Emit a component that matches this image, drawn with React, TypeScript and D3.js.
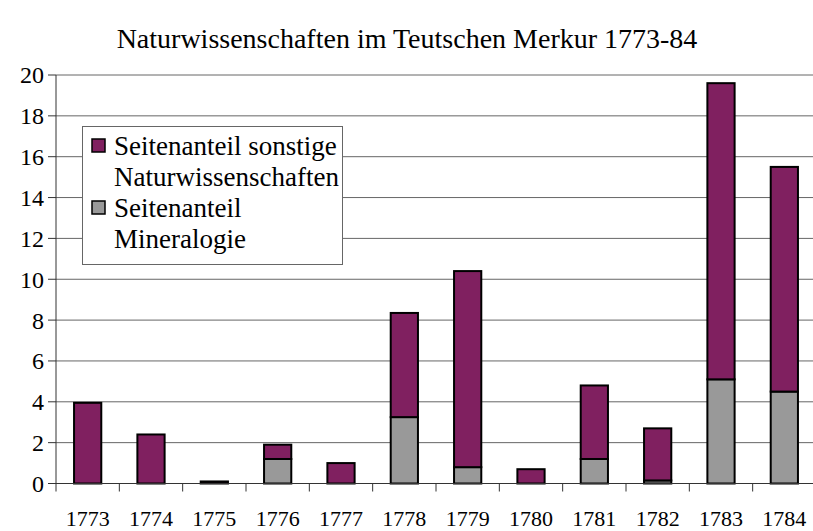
import React from "react";
import * as d3 from "d3";

const years = ["1773", "1774", "1775", "1776", "1777", "1778", "1779", "1780", "1781", "1782", "1783", "1784"];
const mineralogie = [0, 0, 0, 1.2, 0, 3.25, 0.8, 0, 1.2, 0.15, 5.1, 4.5];
const sonstige = [3.95, 2.4, 0.1, 0.7, 1.0, 5.1, 9.6, 0.7, 3.6, 2.55, 14.5, 11.0];
const yTicks = [0, 2, 4, 6, 8, 10, 12, 14, 16, 18, 20];
const legendLines = [
  ["Seitenanteil sonstige", "Naturwissenschaften"],
  ["Seitenanteil", "Mineralogie"]
];

const width = 813;
const height = 531;
const purple = "#802060";
const grey = "#999999";
const font = "'Liberation Serif', 'Times New Roman', serif";

const left = 56;
const right = 816;
const top = 75;
const bottom = 483.5;

const x = d3.scaleBand().domain(years).range([left, right]).paddingInner(0.57).paddingOuter(0.285);
const y = d3.scaleLinear().domain([0, 20]).range([bottom, top]);

const stacked = d3
  .stack<number>()
  .keys(["min", "son"])
  .value((i, key) => (key === "min" ? mineralogie[i] : sonstige[i]))(d3.range(years.length));

const colors = [grey, purple];

const App = () => {
  const step = x.step();
  return (
    <svg
      width={width}
      height={height}
      viewBox={`0 0 ${width} ${height}`}
      style={{ position: "absolute", left: 0, top: 0, background: "#fff", fontFamily: font }}
    >
      <text x={407} y={48} textAnchor="middle" style={{ fontFamily: font, fontSize: "28px" }}>
        Naturwissenschaften im Teutschen Merkur 1773-84
      </text>

      {/* gridlines */}
      {yTicks.filter(t => t > 0).map(t => (
        <line key={t} x1={left} x2={right} y1={y(t)} y2={y(t)} stroke="#666" />
      ))}

      {/* y ticks + labels */}
      {yTicks.map(t => (
        <g key={t}>
          <line x1={left - 8} x2={left} y1={y(t)} y2={y(t)} stroke="#333" />
          <text x={44} y={y(t)} dy="0.35em" textAnchor="end" style={{ fontFamily: font, fontSize: "24px" }}>
            {t}
          </text>
        </g>
      ))}

      {/* bars */}
      {stacked.map((layer, li) => (
        <g key={li}>
          {layer
            .filter(d => d[1] - d[0] > 0)
            .map(d => (
              <rect
                key={d.data}
                x={x(years[d.data])}
                width={x.bandwidth()}
                y={y(d[1])}
                height={y(d[0]) - y(d[1])}
                fill={colors[li]}
                stroke="#000"
                strokeWidth={2}
              />
            ))}
        </g>
      ))}

      {/* axes */}
      <line x1={left} x2={left} y1={top} y2={bottom} stroke="#333" />
      <line x1={left} x2={right} y1={bottom} y2={bottom} stroke="#333" />
      {d3.range(years.length + 1).map(i => (
        <line key={i} x1={left + i * step} x2={left + i * step} y1={bottom} y2={bottom + 8} stroke="#333" />
      ))}
      {years.map(yr => (
        <text
          key={yr}
          x={x(yr)! + x.bandwidth() / 2}
          y={526}
          textAnchor="middle"
          style={{ fontFamily: font, fontSize: "22px" }}
        >
          {yr}
        </text>
      ))}

      {/* legend */}
      <rect x={82.5} y={126.5} width={260} height={138} fill="#fff" stroke="#666" />
      {legendLines.map((lines, i) => {
        const base = 155 + i * 62;
        return (
          <g key={i}>
            <rect x={92} y={base - 16} width={13} height={13} fill={colors[1 - i]} stroke="#000" strokeWidth={1.5} />
            {lines.map((t, j) => (
              <text key={t} x={114} y={base + j * 31} style={{ fontFamily: font, fontSize: "27px" }}>
                {t}
              </text>
            ))}
          </g>
        );
      })}
    </svg>
  );
};

export default App;
